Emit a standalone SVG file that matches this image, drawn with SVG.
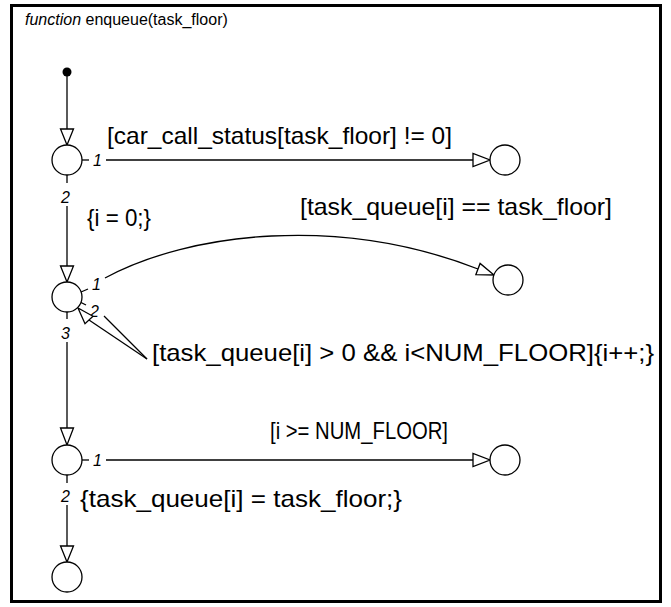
<svg xmlns="http://www.w3.org/2000/svg" width="671" height="607" viewBox="0 0 671 607">
<style>
.lbl{font-family:"Liberation Sans",Arial,sans-serif;font-size:24px;fill:#000}
.num{font-family:"Liberation Sans",Arial,sans-serif;font-size:16px;font-style:italic;fill:#000}
.ttl{font-family:"Liberation Sans",Arial,sans-serif;font-size:16px;fill:#000}
.j{fill:#fff;stroke:#000;stroke-width:1.3}
.ln{fill:none;stroke:#000;stroke-width:1.3}
.ah{fill:#fff;stroke:#000;stroke-width:1.3;stroke-linejoin:miter}
</style>
<rect x="0" y="0" width="671" height="607" fill="#fff"/>
<rect x="11.5" y="5.5" width="649" height="596" fill="none" stroke="#000" stroke-width="3"/>
<text class="ttl" x="25" y="25"><tspan font-style="italic">function</tspan> enqueue(task_floor)</text>

<g id="connectors">
  <!-- default transition -->
  <line class="ln" x1="67" y1="72" x2="67" y2="129"/>
  <polygon class="ah" points="60.5,129 73.5,129 67,145"/>
  <!-- A -> right -->
  <line class="ln" x1="82" y1="160" x2="89" y2="160"/>
  <text class="num" x="93" y="166">1</text>
  <line class="ln" x1="106" y1="160" x2="473" y2="160"/>
  <polygon class="ah" points="473,153.5 473,166.5 490,160"/>
  <text class="lbl" x="107" y="144" textLength="345" lengthAdjust="spacingAndGlyphs">[car_call_status[task_floor] != 0]</text>
  <!-- A -> B -->
  <line class="ln" x1="67" y1="175" x2="67" y2="183"/>
  <text class="num" x="61" y="203" font-style="normal">2</text>
  <line class="ln" x1="67" y1="206" x2="67" y2="266"/>
  <polygon class="ah" points="60.5,266 73.5,266 67,282"/>
  <text class="lbl" x="87" y="226" textLength="64" lengthAdjust="spacingAndGlyphs">{i = 0;}</text>
  <!-- B -> right (curve) -->
  <line class="ln" x1="81" y1="292" x2="88" y2="289"/>
  <text class="num" x="92" y="290">1</text>
  <path class="ln" d="M105,278 C190,232 340,215 478,269"/>
  <polygon class="ah" points="475.9,274.6 480.1,263.4 494,275"/>
  <text class="lbl" x="300" y="215" textLength="312" lengthAdjust="spacingAndGlyphs">[task_queue[i] == task_floor]</text>
  <!-- B self loop -->
  <line class="ln" x1="80" y1="302" x2="86" y2="305"/>
  <text class="num" x="90" y="317" font-style="normal">2</text>
  <line class="ln" x1="104" y1="316" x2="147" y2="359"/>
  <line class="ln" x1="147" y1="359" x2="89" y2="320"/>
  <polygon class="ah" points="93,316.3 85,323.7 78,308"/>
  <text class="lbl" x="152" y="361" textLength="502" lengthAdjust="spacingAndGlyphs">[task_queue[i] &gt; 0 &amp;&amp; i&lt;NUM_FLOOR]{i++;}</text>
  <!-- B -> C -->
  <line class="ln" x1="67" y1="312" x2="67" y2="319"/>
  <text class="num" x="61" y="339" font-style="normal">3</text>
  <line class="ln" x1="67" y1="342" x2="67" y2="428"/>
  <polygon class="ah" points="60.5,428 73.5,428 67,445"/>
  <!-- C -> right -->
  <line class="ln" x1="82" y1="460" x2="89" y2="460"/>
  <text class="num" x="93" y="466">1</text>
  <line class="ln" x1="106" y1="460" x2="473" y2="460"/>
  <polygon class="ah" points="473,453.5 473,466.5 490,460"/>
  <text class="lbl" x="270" y="439" textLength="178" lengthAdjust="spacingAndGlyphs">[i &gt;= NUM_FLOOR]</text>
  <!-- C -> end -->
  <line class="ln" x1="67" y1="475" x2="67" y2="483"/>
  <text class="num" x="61" y="502" font-style="normal">2</text>
  <line class="ln" x1="67" y1="505" x2="67" y2="546"/>
  <polygon class="ah" points="60.5,546 73.5,546 67,562"/>
  <text class="lbl" x="80" y="507" textLength="322" lengthAdjust="spacingAndGlyphs">{task_queue[i] = task_floor;}</text>
</g>

<g id="start"><circle cx="67" cy="72" r="4.5" fill="#000"/></g>
<g id="jA"><circle class="j" cx="67" cy="160" r="15"/></g>
<g id="jA_end"><circle class="j" cx="505" cy="160" r="15"/></g>
<g id="jB"><circle class="j" cx="67" cy="297" r="15"/></g>
<g id="jB_end"><circle class="j" cx="508" cy="280" r="15"/></g>
<g id="jC"><circle class="j" cx="67" cy="460" r="15"/></g>
<g id="jC_end"><circle class="j" cx="505" cy="460" r="15"/></g>
<g id="jD"><circle class="j" cx="67" cy="577" r="15"/></g>
</svg>
